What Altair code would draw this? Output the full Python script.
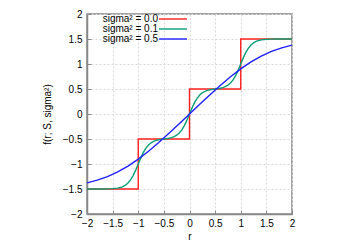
import altair as alt
import pandas as pd

# sigma^2 = 0.0 (hard quantizer)
r0 = [-2.0, -1.0, -1.0, 0.0, 0.0, 1.0, 1.0, 2.0]
f0 = [-1.5, -1.5, -0.5, -0.5, 0.5, 0.5, 1.5, 1.5]

# sigma^2 = 0.1
r1 = [-2.0, -1.9, -1.8, -1.7, -1.6, -1.5, -1.4, -1.35, -1.3, -1.25, -1.2, -1.15, -1.1, -1.05,
      -1.0, -0.95, -0.9, -0.85, -0.8, -0.75, -0.7, -0.65, -0.6, -0.55, -0.5, -0.45, -0.4, -0.35,
      -0.3, -0.25, -0.2, -0.15, -0.1, -0.05, 0.0, 0.05, 0.1, 0.15, 0.2, 0.25, 0.3, 0.35, 0.4,
      0.45, 0.5, 0.55, 0.6, 0.65, 0.7, 0.75, 0.8, 0.85, 0.9, 0.95, 1.0, 1.05, 1.1, 1.15, 1.2,
      1.25, 1.3, 1.35, 1.4, 1.5, 1.6, 1.7, 1.8, 1.9, 2.0]
f1 = [-1.500, -1.500, -1.500, -1.499, -1.498, -1.493, -1.482, -1.471, -1.453, -1.424, -1.381,
      -1.318, -1.231, -1.122, -1.000, -0.878, -0.769, -0.682, -0.619, -0.576, -0.547, -0.528,
      -0.516, -0.507, -0.500, -0.493, -0.485, -0.472, -0.454, -0.424, -0.381, -0.318, -0.231,
      -0.122, 0.000, 0.122, 0.231, 0.318, 0.381, 0.424, 0.454, 0.472, 0.485, 0.493, 0.500,
      0.507, 0.516, 0.528, 0.547, 0.576, 0.619, 0.682, 0.769, 0.878, 1.000, 1.122, 1.231,
      1.318, 1.381, 1.424, 1.453, 1.471, 1.482, 1.493, 1.498, 1.499, 1.500, 1.500, 1.500]

# sigma^2 = 0.5
r2 = [-2.0, -1.8, -1.6, -1.4, -1.2, -1.0, -0.8, -0.6, -0.4, -0.2, 0.0,
      0.2, 0.4, 0.6, 0.8, 1.0, 1.2, 1.4, 1.6, 1.8, 2.0]
f2 = [-1.377, -1.324, -1.252, -1.158, -1.041, -0.902, -0.744, -0.570, -0.386, -0.195, 0.000,
      0.195, 0.386, 0.570, 0.744, 0.902, 1.041, 1.158, 1.252, 1.324, 1.377]

labels = ["sigma² = 0.0", "sigma² = 0.1", "sigma² = 0.5"]
colors = ["#ff1f1f", "#0a9e76", "#1f1fff"]
ticks = [-2, -1.5, -1, -0.5, 0, 0.5, 1, 1.5, 2]

rows = []
for lab, rs, fs in zip(labels, [r0, r1, r2], [f0, f1, f2]):
    for i, (r, f) in enumerate(zip(rs, fs)):
        rows.append({"series": lab, "r": r, "f": f, "i": i})
df = pd.DataFrame(rows)

font = "Liberation Sans"

chart = alt.Chart(df).mark_line(strokeWidth=1.4, clip=True).encode(
    x=alt.X("r:Q", title="r", scale=alt.Scale(domain=[-2, 2], nice=False),
            axis=alt.Axis(values=ticks, format="~g", labelPadding=8, titlePadding=3,
                          labelFlush=False)),
    y=alt.Y("f:Q", title="f(r; S, sigma²)", scale=alt.Scale(domain=[-2, 2], nice=False),
            axis=alt.Axis(values=ticks, format="~g", labelPadding=9, titlePadding=10,
                          labelFlush=False)),
    color=alt.Color("series:N", scale=alt.Scale(domain=labels, range=colors),
                    legend=alt.Legend(title=None, orient="none", legendX=81, legendY=0,
                                      symbolType="M-4,0H4", symbolSize=49,
                                      symbolStrokeWidth=1.4,
                                      labelAlign="right", labelOffset={"expr": "-20"},
                                      rowPadding=0, padding=0,
                                      labelFontSize=10, labelFont=font,
                                      labelColor="#000")),
    order="i:Q",
).properties(
    width=205, height=200,
    autosize=alt.AutoSizeParams(type="none"),
    padding={"left": 79, "top": 6, "right": 40, "bottom": 40},
).configure_axis(
    labelFont=font, titleFont=font, labelFontSize=10, titleFontSize=10,
    titleFontWeight="normal", labelColor="#000", titleColor="#000",
    ticks=True, tickSize={"expr": "-4"}, tickColor="#888", tickWidth=1,
    domainColor="#888", domainWidth=1.5,
    grid=True, gridColor="#d8d8d8", gridDash=[2, 2], gridWidth=1,
).configure_view(
    stroke="#888", strokeWidth=1.5,
)

chart.save("out.html", embed_options={"renderer": "svg", "actions": False})
